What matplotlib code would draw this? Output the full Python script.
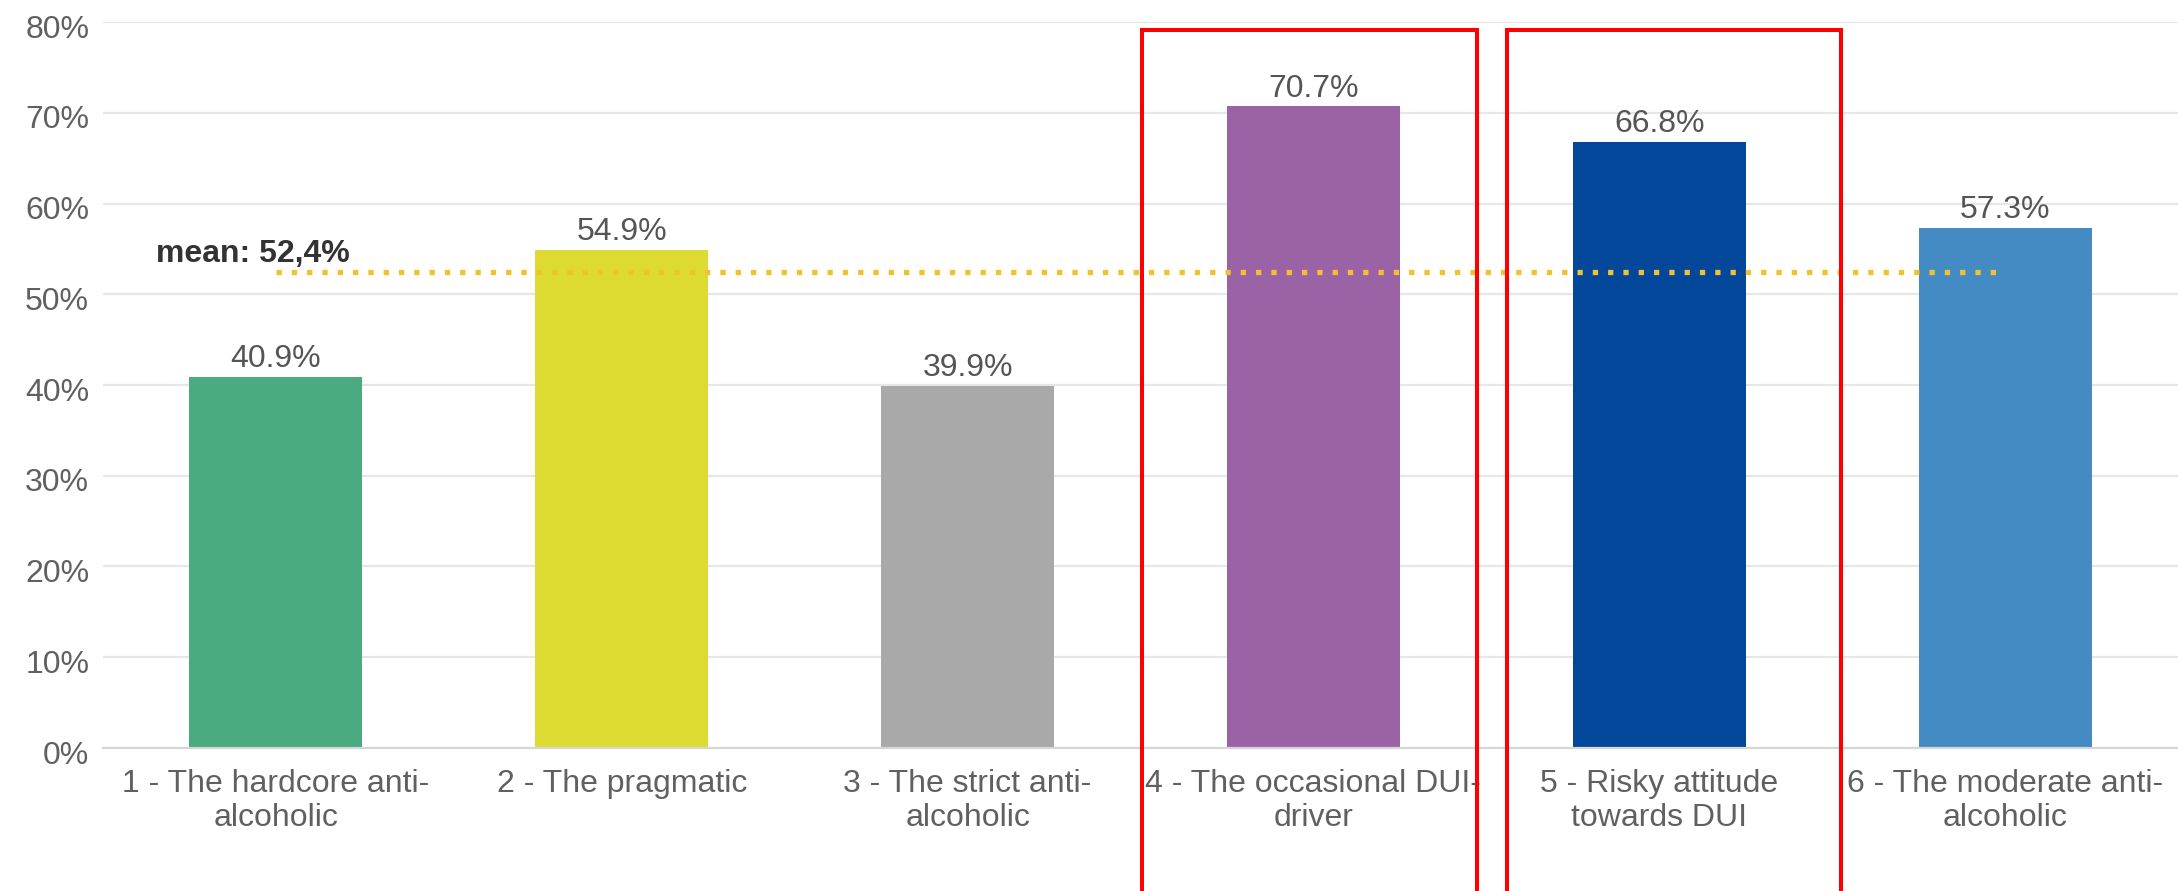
import matplotlib
matplotlib.use("Agg")
import matplotlib.pyplot as plt
from matplotlib.patches import Rectangle
from matplotlib.transforms import blended_transform_factory, ScaledTranslation

# data
categories = [
    "1 - The hardcore anti-\nalcoholic",
    "2 - The pragmatic",
    "3 - The strict anti-\nalcoholic",
    "4 - The occasional DUI-\ndriver",
    "5 - Risky attitude\ntowards DUI",
    "6 - The moderate anti-\nalcoholic",
]
values = [40.9, 54.9, 39.9, 70.7, 66.8, 57.3]
value_labels = ["40.9%", "54.9%", "39.9%", "70.7%", "66.8%", "57.3%"]
bar_colors = ["#4AAA80", "#DDDB32", "#A9A9A9", "#9B62A6", "#03479A", "#438BC2"]
mean_value = 52.4
mean_label = "mean: 52,4%"
y_ticks = [0, 10, 20, 30, 40, 50, 60, 70, 80]
y_tick_labels = ["0%", "10%", "20%", "30%", "40%", "50%", "60%", "70%", "80%"]
highlighted = [3, 4]

plt.rcParams['font.family'] = ['Liberation Sans', 'DejaVu Sans']

fig = plt.figure(figsize=(21.78, 8.91), dpi=100)
ax = fig.add_axes([0.0473, 0.1605, 0.9527, 0.8148])

x = list(range(len(categories)))
bars = ax.bar(x, values, width=0.5, color=bar_colors, zorder=2)

# value labels above bars
for xi, v, lab in zip(x, values, value_labels):
    ax.annotate(lab, (xi, v), xytext=(0, 2), textcoords="offset points",
                ha="center", va="bottom", fontsize=23, color="#555555", zorder=4)

# mean line (drawn in front of the bars)
ax.plot([x[0], x[-1]], [mean_value, mean_value], color="#F2C12E", lw=3.8,
        dashes=(1, 1.9), dash_capstyle="butt", zorder=3)
ax.text(-0.347, 53.6, mean_label, fontsize=23, fontweight="bold",
        color="#333333", ha="left", va="baseline", zorder=4)

ax.set_xlim(-0.5, 5.5)
ax.set_ylim(0, 80)
ax.set_yticks(y_ticks)
ax.set_yticklabels(y_tick_labels)
ax.set_xticks(x)
ax.set_xticklabels(categories)
ax.tick_params(axis="y", length=0, pad=10, labelsize=23, labelcolor="#606060")
ax.tick_params(axis="x", length=0, pad=15, labelsize=23, labelcolor="#606060")

# y labels sit a little below their gridlines in the reference
shift = ScaledTranslation(0, -3 / 72, fig.dpi_scale_trans)
for lbl in ax.get_yticklabels():
    lbl.set_transform(lbl.get_transform() + shift)

ax.grid(axis="y", color="#E6E6E6", lw=1.6, zorder=0)
ax.set_axisbelow(True)
for side in ["top", "right", "left"]:
    ax.spines[side].set_visible(False)
ax.spines["bottom"].set_color("#D6D6D6")
ax.spines["bottom"].set_linewidth(1.6)

# red highlight boxes around categories 4 and 5
trans = blended_transform_factory(ax.transData, ax.transAxes)
box_offsets = {3: (-0.496, 0.472), 4: (-0.441, 0.526)}
for idx in highlighted:
    left, right = box_offsets[idx]
    rect = Rectangle((idx + left, -0.3), right - left, 0.989 + 0.3,
                     transform=trans, fill=False, edgecolor="#FF0000",
                     lw=2.9, clip_on=False, zorder=5)
    ax.add_patch(rect)

fig.savefig("out.png", dpi=100)
